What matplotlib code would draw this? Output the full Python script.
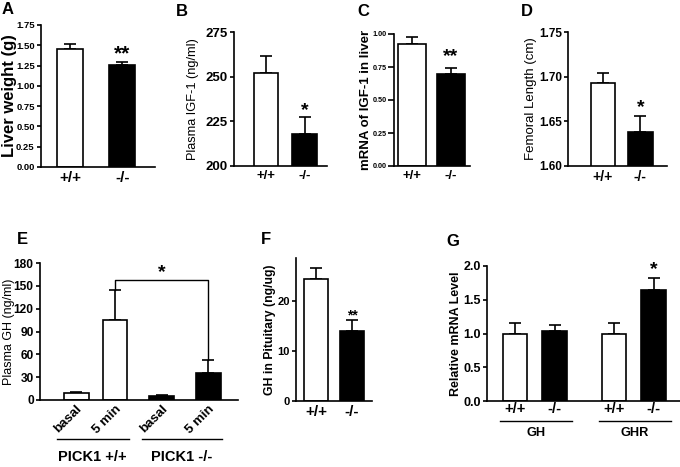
import matplotlib

matplotlib.use("Agg")

import matplotlib.pyplot as plt

plt.rcParams["font.family"] = ["Liberation Sans", "DejaVu Sans"]

W, H = 680, 467

# --- Dados ----------------------------------------------------------------
geno = ["+/+", "-/-"]

liver_mean = [1.46, 1.26]
liver_err = [0.05, 0.04]

igf_mean = [252, 218]
igf_err = [9.5, 9.5]

mrna_mean = [0.925, 0.70]
mrna_err = [0.05, 0.04]

femur_mean = [1.693, 1.638]
femur_err = [0.011, 0.018]

gh_labels = ["basal", "5 min", "basal", "5 min"]
gh_mean = [9, 105, 5, 36]
gh_err = [2, 40, 1, 16]
gh_groups = ["PICK1 +/+", "PICK1 -/-"]

pit_mean = [24.5, 14.0]
pit_err = [2.1, 2.2]

rel_labels = ["+/+", "-/-", "+/+", "-/-"]
rel_mean = [1.0, 1.03, 1.0, 1.65]
rel_err = [0.16, 0.09, 0.15, 0.17]
rel_groups = ["GH", "GHR"]


def eixo(fig, x0, x1, ytop, ybot):
    """Cria eixo a partir de uma caixa em pixels (origem no topo)."""
    ax = fig.add_axes([x0 / W, 1 - ybot / H, (x1 - x0) / W, (ybot - ytop) / H])
    for s in ("top", "right"):
        ax.spines[s].set_visible(False)
    for s in ("left", "bottom"):
        ax.spines[s].set_linewidth(1.2)
    ax.tick_params(axis="y", direction="out", length=3, width=1.2, pad=1.5)
    ax.tick_params(axis="x", length=0, pad=3)
    return ax


def rotulo_y(ax, texto, xpos, **kw):
    """Rótulo do eixo y com a borda direita em xpos (coordenadas do eixo)."""
    ax.set_ylabel(texto, **kw)
    ax.yaxis.set_label_coords(xpos, 0.5)


def barras(ax, pos, mean, err, cores, largura):
    ax.bar(pos, mean, width=largura, color=cores, edgecolor="black", linewidth=1.2, zorder=2)
    ax.errorbar(pos, mean, yerr=[[0] * len(err), err], fmt="none", ecolor="black",
                elinewidth=1.2, capsize=4, capthick=1.2, zorder=1)


def letra(fig, x, y, txt):
    fig.text(x / W, 1 - y / H, txt, fontsize=12, fontweight="bold", ha="left", va="center")


fig = plt.figure(figsize=(W / 100, H / 100), dpi=100)
fig.patch.set_facecolor("white")
cores2 = ["white", "black"]

# --- A --------------------------------------------------------------------
ax = eixo(fig, 41, 155, 25, 167)
barras(ax, [0, 1], liver_mean, liver_err, cores2, 0.5)
ax.set_xlim(-0.56, 1.63)
ax.set_ylim(0, 1.75)
ax.set_yticks([0, 0.25, 0.5, 0.75, 1.0, 1.25, 1.5, 1.75])
ax.set_yticklabels([f"{v:.2f}" for v in ax.get_yticks()], fontsize=6.8, fontweight="bold")
ax.set_xticks([0, 1])
ax.set_xticklabels(geno, fontsize=11, fontweight="bold")
rotulo_y(ax, "Liver weight (g)", -0.21, fontsize=12, fontweight="bold")
ax.text(1, 1.40, "**", ha="center", va="center", fontsize=15, fontweight="bold")
letra(fig, 2, 10, "A")

# --- B --------------------------------------------------------------------
ax = eixo(fig, 234, 327, 32, 166)
barras(ax, [0, 1], igf_mean, igf_err, cores2, 0.64)
ax.set_xlim(-0.83, 1.58)
ax.set_ylim(200, 275)
ax.set_yticks([200, 225, 250, 275])
ax.set_yticklabels(["200", "225", "250", "275"], fontsize=9.5, fontweight="bold")
ax.set_xticks([0, 1])
ax.set_xticklabels(geno, fontsize=9.5, fontweight="bold")
rotulo_y(ax, "Plasma IGF-1 (ng/ml)", -0.376, fontsize=9.2)
ax.text(1, 231, "*", ha="center", va="center", fontsize=14, fontweight="bold")
letra(fig, 176, 11, "B")

# --- C --------------------------------------------------------------------
ax = eixo(fig, 394, 470, 34, 166)
barras(ax, [0, 1], mrna_mean, mrna_err, cores2, 0.7)
ax.set_xlim(-0.46, 1.49)
ax.set_ylim(0, 1.0)
ax.set_yticks([0, 0.25, 0.5, 0.75, 1.0])
ax.set_yticklabels(["0.00", "0.25", "0.50", "0.75", "1.00"], fontsize=5.2, fontweight="bold")
ax.tick_params(axis="y", length=4, pad=1)
ax.set_xticks([0, 1])
ax.set_xticklabels(geno, fontsize=9.5, fontweight="bold")
rotulo_y(ax, "mRNA of IGF-1 in liver", -0.29, fontsize=9.5, fontweight="bold")
ax.text(1, 0.83, "**", ha="center", va="center", fontsize=14, fontweight="bold")
letra(fig, 357, 11, "C")

# --- D --------------------------------------------------------------------
ax = eixo(fig, 568, 667, 32, 166)
barras(ax, [0, 1], femur_mean, femur_err, cores2, 0.65)
ax.set_xlim(-0.93, 1.71)
ax.set_ylim(1.60, 1.75)
ax.set_yticks([1.60, 1.65, 1.70, 1.75])
ax.set_yticklabels(["1.60", "1.65", "1.70", "1.75"], fontsize=8.5, fontweight="bold")
ax.set_xticks([0, 1])
ax.set_xticklabels(geno, fontsize=10, fontweight="bold")
rotulo_y(ax, "Femoral Length (cm)", -0.313, fontsize=9.5)
ax.text(1, 1.665, "*", ha="center", va="center", fontsize=14, fontweight="bold")
letra(fig, 521, 11, "D")

# --- E --------------------------------------------------------------------
pos_e = [0, 1, 2.2, 3.4]
ax = eixo(fig, 40, 238, 263, 400)
barras(ax, pos_e, gh_mean, gh_err, ["white", "white", "black", "black"], 0.64)
ax.set_xlim(-0.93, 4.17)
ax.set_ylim(0, 180)
ax.set_yticks(range(0, 181, 30))
ax.set_yticklabels([str(v) for v in range(0, 181, 30)], fontsize=8.6, fontweight="bold")
ax.set_xticks(pos_e)
ax.set_xticklabels(gh_labels, fontsize=9.5, fontweight="bold", rotation=45,
                   ha="right", va="top", rotation_mode="anchor")
ax.tick_params(axis="x", pad=2)
rotulo_y(ax, "Plasma GH (ng/ml)", -0.126, fontsize=9)
# colchete de significância
ax.plot([pos_e[1], pos_e[1], pos_e[3], pos_e[3]],
        [gh_mean[1] + gh_err[1], 158, 158, gh_mean[3] + gh_err[3]],
        color="black", lw=1.0, clip_on=False)
ax.text((pos_e[1] + pos_e[3]) / 2, 167, "*", ha="center", va="center", fontsize=14, fontweight="bold")
tr = ax.get_xaxis_transform()
for (a, b), g in zip([(pos_e[0], pos_e[1]), (pos_e[2], pos_e[3])], gh_groups):
    x0, x1 = a - 0.5, b + 0.35
    ax.plot([x0, x1], [-0.285, -0.285], color="black", lw=1.0,
            transform=tr, clip_on=False)
    ax.text((x0 + x1) / 2, -0.415, g, transform=tr, ha="center", va="center",
            fontsize=10.5, fontweight="bold")
letra(fig, 17, 240, "E")

# --- F --------------------------------------------------------------------
ax = eixo(fig, 296, 372, 258, 401)
barras(ax, [0, 1], pit_mean, pit_err, cores2, 0.67)
ax.set_xlim(-0.56, 1.56)
ax.set_ylim(0, 28.7)
ax.set_yticks([0, 10, 20])
ax.set_yticklabels(["0", "10", "20"], fontsize=8, fontweight="bold")
ax.set_xticks([0, 1])
ax.set_xticklabels(geno, fontsize=11, fontweight="bold")
rotulo_y(ax, "GH in Pituitary (ng/ug)", -0.263, fontsize=8.8, fontweight="bold")
ax.text(1, 17.2, "**", ha="center", va="center", fontsize=10, fontweight="bold")
letra(fig, 261, 239, "F")

# --- G --------------------------------------------------------------------
pos_g = [0, 1, 2.5, 3.5]
ax = eixo(fig, 487, 680, 266, 401)
barras(ax, pos_g, rel_mean, rel_err, ["white", "black", "white", "black"], 0.62)
ax.set_xlim(-0.71, 4.17)
ax.set_ylim(0, 2.0)
ax.set_yticks([0, 0.5, 1.0, 1.5, 2.0])
ax.set_yticklabels(["0.0", "0.5", "1.0", "1.5", "2.0"], fontsize=9, fontweight="bold")
ax.set_xticks(pos_g)
ax.set_xticklabels(rel_labels, fontsize=10.5, fontweight="bold")
ax.tick_params(axis="x", pad=1)
rotulo_y(ax, "Relative mRNA Level", -0.13, fontsize=9, fontweight="bold")
ax.text(pos_g[3], 1.94, "*", ha="center", va="center", fontsize=14, fontweight="bold")
tr = ax.get_xaxis_transform()
for (a, b), g in zip([(pos_g[0], pos_g[1]), (pos_g[2], pos_g[3])], rel_groups):
    x0, x1 = a - 0.38, b + 0.44
    ax.plot([x0, x1], [-0.148, -0.148], color="black", lw=1.0,
            transform=tr, clip_on=False)
    ax.text((x0 + x1) / 2, -0.235, g, transform=tr, ha="center", va="center",
            fontsize=9.2, fontweight="bold")
letra(fig, 446, 242, "G")

fig.savefig("out.png", dpi=100, facecolor="white")
